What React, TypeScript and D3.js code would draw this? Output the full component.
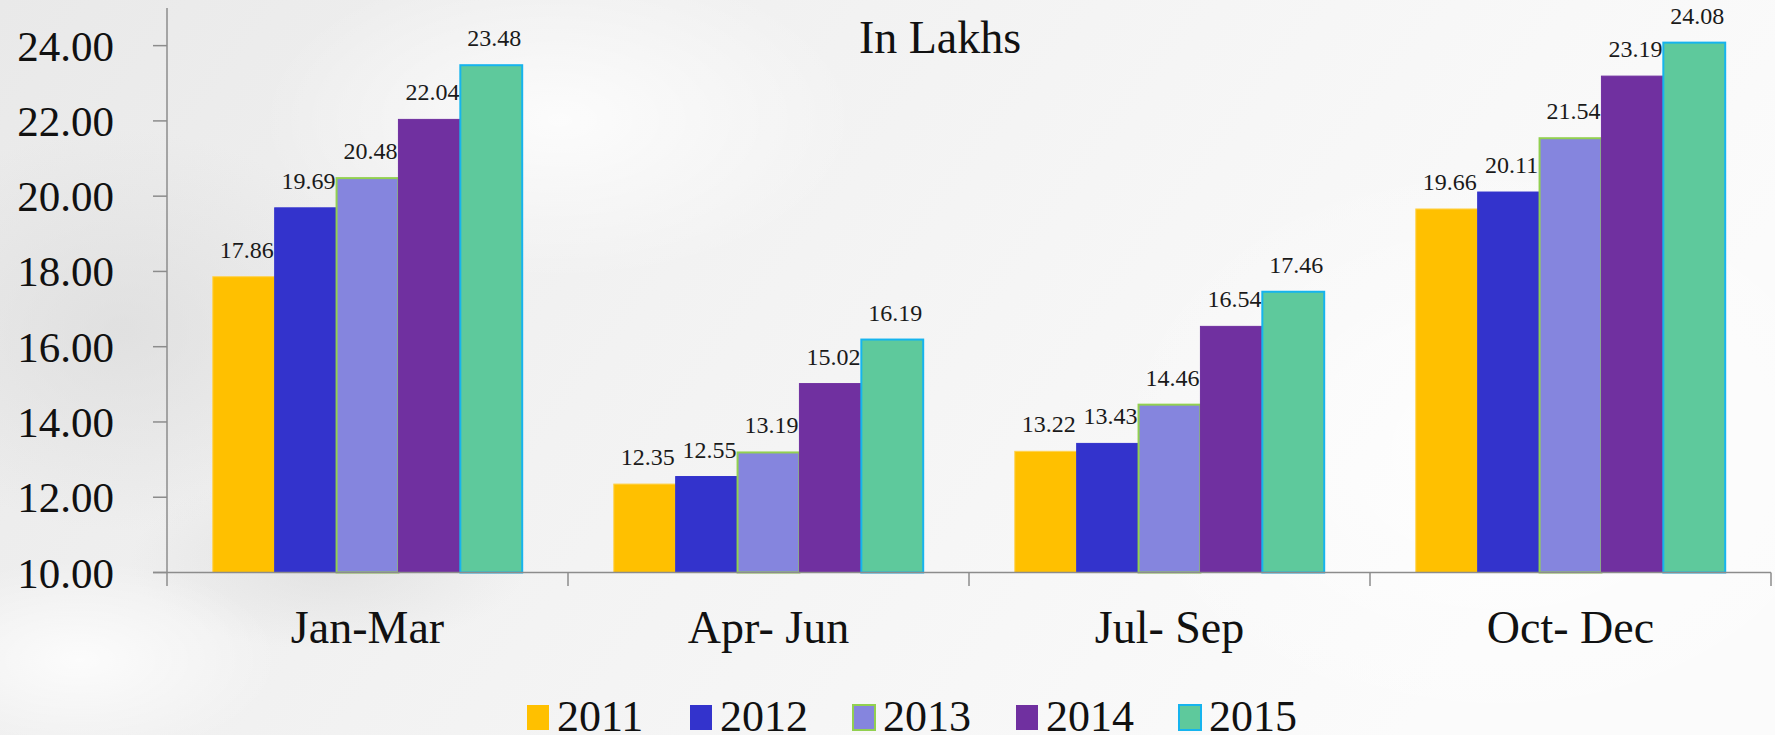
import { useMemo } from "react";
import * as d3 from "d3";

// quarters and the yearly values (in lakhs)
const quarters = ["Jan-Mar", "Apr- Jun", "Jul- Sep", "Oct- Dec"];
const years = ["2011", "2012", "2013", "2014", "2015"];
const v2011 = [17.86, 12.35, 13.22, 19.66];
const v2012 = [19.69, 12.55, 13.43, 20.11];
const v2013 = [20.48, 13.19, 14.46, 21.54];
const v2014 = [22.04, 15.02, 16.54, 23.19];
const v2015 = [23.48, 16.19, 17.46, 24.08];
const yTicks = [10, 12, 14, 16, 18, 20, 22, 24];

const fills = ["#FFC000", "#3333CC", "#8585DE", "#7030A0", "#5EC99C"];
const strokes = ["#FFD24D", "#3333CC", "#92D050", "#7030A0", "#16B4EE"];

const W = 1775;
const H = 735;
const font = "'Liberation Serif', 'Times New Roman', serif";

const App = () => {
  const series = [v2011, v2012, v2013, v2014, v2015];

  const x0 = useMemo(() => d3.scaleBand().domain(quarters).range([167, 1771]), []);
  const x1 = useMemo(
    () => d3.scaleBand().domain(years).range([0, x0.bandwidth()]).paddingOuter(0.74),
    [x0]
  );
  const y = d3.scaleLinear().domain([10, 25]).range([572.5, 8]);
  const fmt = d3.format(".2f");

  return (
    <svg
      width={W}
      height={H}
      style={{ position: "absolute", left: 0, top: 0 }}
      fontFamily={font}
    >
      <defs>
        <linearGradient id="bg" x1="0" y1="0" x2="1" y2="0.3">
          <stop offset="0" stopColor="#e9e9e9" />
          <stop offset="0.45" stopColor="#f2f2f2" />
          <stop offset="1" stopColor="#fbfbfb" />
        </linearGradient>
        <radialGradient id="cloud1" cx="0.5" cy="0.5" r="0.5">
          <stop offset="0" stopColor="#d8d8d8" stopOpacity="0.6" />
          <stop offset="1" stopColor="#d8d8d8" stopOpacity="0" />
        </radialGradient>
        <radialGradient id="cloud2" cx="0.5" cy="0.5" r="0.5">
          <stop offset="0" stopColor="#ffffff" stopOpacity="0.8" />
          <stop offset="1" stopColor="#ffffff" stopOpacity="0" />
        </radialGradient>
      </defs>
      <rect width={W} height={H} fill="url(#bg)" />
      <ellipse cx={120} cy={330} rx={260} ry={200} fill="url(#cloud1)" />
      <ellipse cx={330} cy={560} rx={200} ry={90} fill="url(#cloud1)" />
      <ellipse cx={560} cy={120} rx={300} ry={160} fill="url(#cloud2)" />
      <ellipse cx={80} cy={660} rx={200} ry={100} fill="url(#cloud2)" />
      <ellipse cx={1500} cy={450} rx={400} ry={300} fill="url(#cloud2)" />

      {/* title */}
      <text x={940} y={53} fontSize={46} textAnchor="middle" fill="#111">
        In Lakhs
      </text>

      {/* bars */}
      {quarters.map((q, qi) => (
        <g key={q} transform={`translate(${x0(q)},0)`}>
          {years.map((yr, i) => {
            const val = series[i][qi];
            const bx = x1(yr) as number;
            const bw = x1.bandwidth();
            return (
              <g key={yr}>
                <rect
                  x={bx}
                  y={y(val)}
                  width={bw}
                  height={y(10) - y(val)}
                  fill={fills[i]}
                  stroke={strokes[i]}
                  strokeWidth={i === 2 || i === 4 ? 2 : 1}
                />
                <text
                  x={bx + bw / 2 + 3}
                  y={y(val) - 19}
                  fontSize={24}
                  textAnchor="middle"
                  fill="#1a1a1a"
                >
                  {fmt(val)}
                </text>
              </g>
            );
          })}
        </g>
      ))}

      {/* y axis */}
      <line x1={167} x2={167} y1={8} y2={586} stroke="#8c8c8c" strokeWidth={1.5} />
      {yTicks.map((t) => (
        <g key={t}>
          <line x1={153} x2={167} y1={y(t)} y2={y(t)} stroke="#8c8c8c" strokeWidth={1.5} />
          <text x={114} y={y(t) + 15} fontSize={43} textAnchor="end" fill="#111">
            {fmt(t)}
          </text>
        </g>
      ))}

      {/* x axis */}
      <line x1={153} x2={1771} y1={y(10)} y2={y(10)} stroke="#8c8c8c" strokeWidth={1.5} />
      {quarters.map((q) => (
        <line
          key={q}
          x1={(x0(q) as number) + x0.bandwidth()}
          x2={(x0(q) as number) + x0.bandwidth()}
          y1={y(10)}
          y2={586}
          stroke="#8c8c8c"
          strokeWidth={1.5}
        />
      ))}
      {quarters.map((q) => (
        <text
          key={q}
          x={(x0(q) as number) + x0.bandwidth() / 2}
          y={643}
          fontSize={46}
          textAnchor="middle"
          fill="#111"
        >
          {q}
        </text>
      ))}

      {/* legend */}
      {years.map((yr, i) => {
        const lx = 527 + i * 163;
        return (
          <g key={yr}>
            <rect
              x={lx}
              y={705}
              width={22}
              height={25}
              fill={fills[i]}
              stroke={i === 2 || i === 4 ? strokes[i] : "none"}
              strokeWidth={2}
            />
            <text x={lx + 30} y={731} fontSize={44} fill="#111">
              {yr}
            </text>
          </g>
        );
      })}
    </svg>
  );
};

export default App;
